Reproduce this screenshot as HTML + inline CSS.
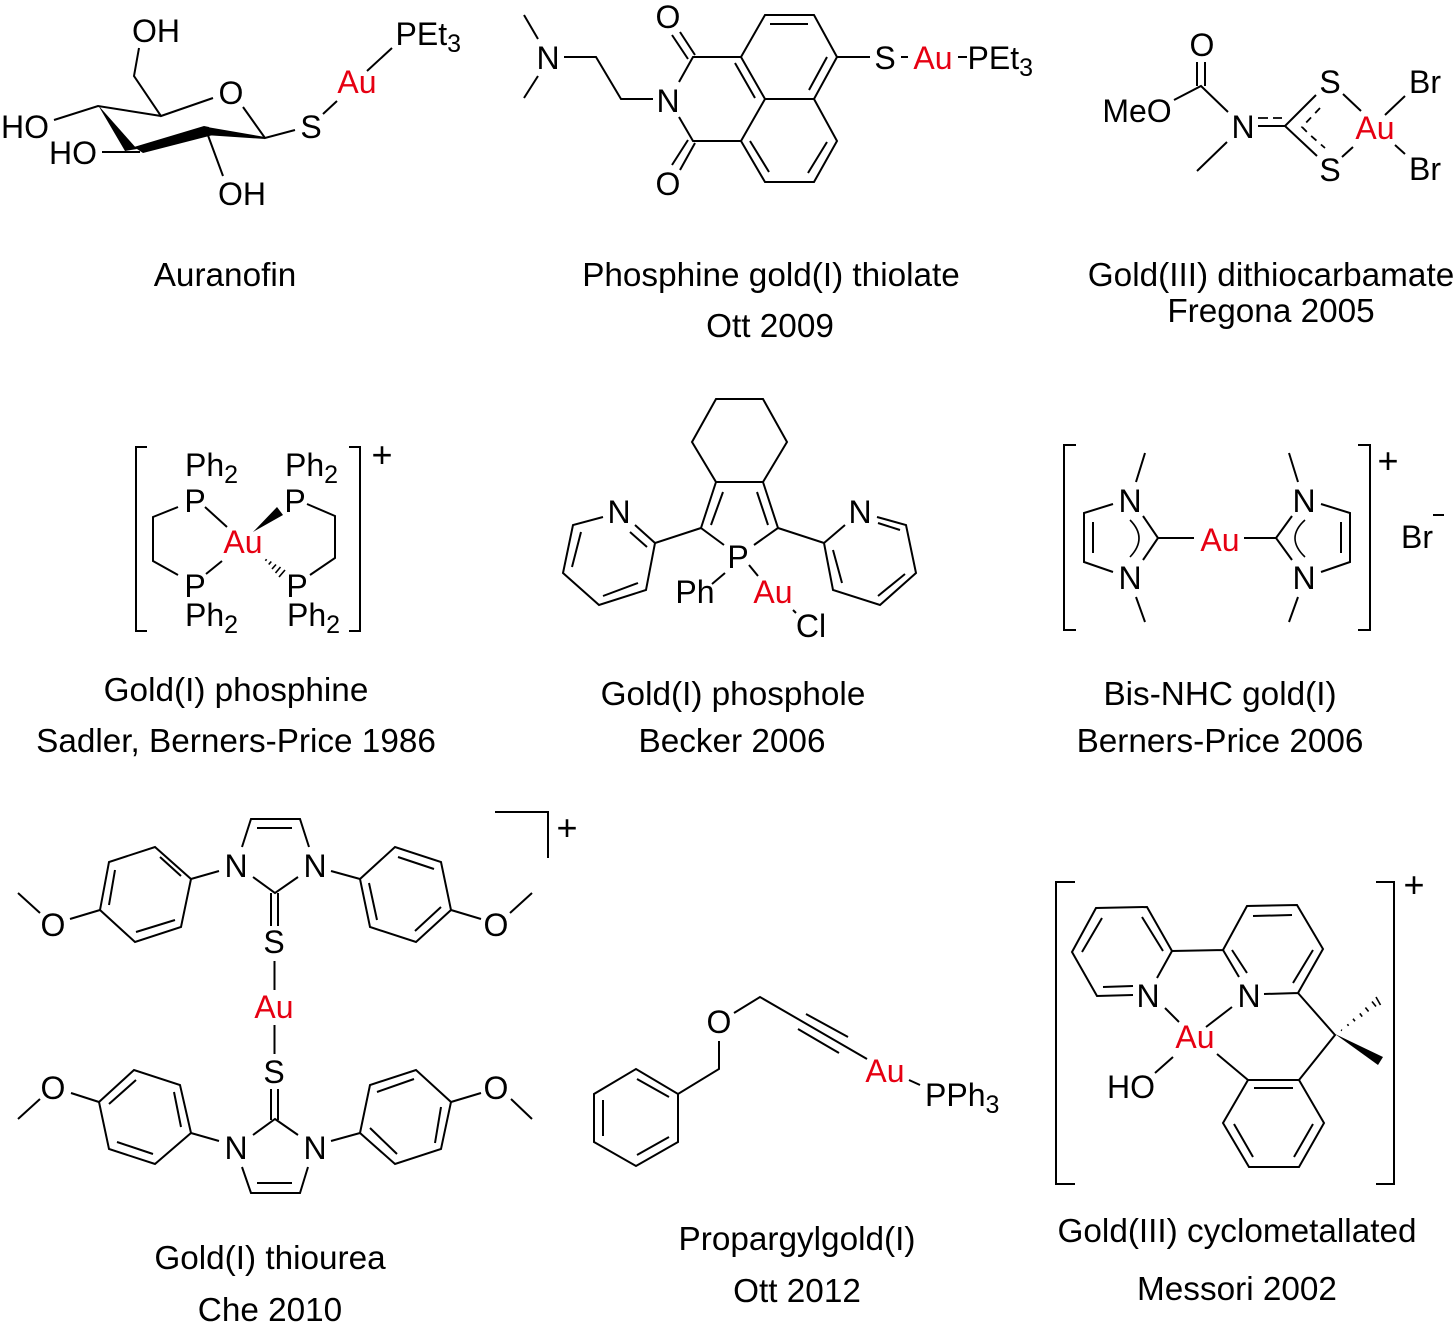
<!DOCTYPE html>
<html>
<head>
<meta charset="utf-8">
<style>
html,body{margin:0;padding:0;background:#fff;width:1455px;height:1329px;overflow:hidden}
svg{display:block}
text{font-family:"Liberation Sans",sans-serif;fill:#000}
.a{font-size:32px;text-anchor:middle}
.s{font-size:32px}
.l{font-size:33.3px;text-anchor:middle}
.p{font-size:36px;text-anchor:middle}
.r{fill:#e60012}
.b{fill:none;stroke:#000;stroke-width:2;stroke-linejoin:miter;stroke-linecap:butt}
.h{fill:none;stroke:#000;stroke-width:1.6}
.d{fill:none;stroke:#000;stroke-width:1.8;stroke-dasharray:7 6}
</style>
</head>
<body>
<svg width="1455" height="1329" viewBox="0 0 1455 1329" xmlns="http://www.w3.org/2000/svg">
<!-- Labels -->
<g class="lbl">
<text class="l" x="225" y="286">Auranofin</text>
<text class="l" x="771" y="286">Phosphine gold(I) thiolate</text>
<text class="l" x="770" y="337">Ott 2009</text>
<text class="l" x="1271" y="286">Gold(III) dithiocarbamate</text>
<text class="l" x="1271" y="322">Fregona 2005</text>
<text class="l" x="236" y="701">Gold(I) phosphine</text>
<text class="l" x="236" y="752">Sadler, Berners-Price 1986</text>
<text class="l" x="733" y="705">Gold(I) phosphole</text>
<text class="l" x="732" y="752">Becker 2006</text>
<text class="l" x="1220" y="705">Bis-NHC gold(I)</text>
<text class="l" x="1220" y="752">Berners-Price 2006</text>
<text class="l" x="270" y="1269">Gold(I) thiourea</text>
<text class="l" x="270" y="1321">Che 2010</text>
<text class="l" x="797" y="1250">Propargylgold(I)</text>
<text class="l" x="797" y="1302">Ott 2012</text>
<text class="l" x="1237" y="1242">Gold(III) cyclometallated</text>
<text class="l" x="1237" y="1300">Messori 2002</text>
</g>

<!-- 1 Auranofin -->
<path class="b" d="M139 48L134 76L161 116L213 98M243 107L265 138L295 130M323 114L337 101M367 71L392 48M161 116L98 106L54 120M102 152L140 152M206 130L223 176"/>
<polygon points="98,105 125,151 137,149"/>
<polygon points="134,147 204,126 209,127 213,135 143,153"/>
<polygon points="207,127 265,137 265,139 205,135"/>
<text class="a" x="156" y="42">OH</text>
<text class="s" x="395.5" y="45">PEt<tspan font-size="25" dy="7">3</tspan></text>
<text class="a r" x="357" y="93">Au</text>
<text class="a" x="231" y="104">O</text>
<text class="a" x="311" y="138">S</text>
<text class="a" x="25" y="138">HO</text>
<text class="a" x="73" y="164">HO</text>
<text class="a" x="242" y="205">OH</text>

<!-- 2 Phosphine gold thiolate -->
<path class="b" d="M524 15L538 39M524 98L538 76M564 57L596 57L621 99L653 99M679 82L693 57L741 57L765 15L814 15L837 57L814 99L765 99L741 57M765 99L741 141L693 141L679 117M741 141L765 182L814 182L837 141L814 99M837 57L870 57M770 24L808 24M827 57L809 90M735 63L755 98M750 141L769 172L769 172M808 173L827 142M695 55L680 32M688 59L672 35M695 143L680 170M688 140L672 165M901 57L908 57M958 57L967 57"/>
<text class="a" x="548" y="69">N</text>
<text class="a" x="668" y="112">N</text>
<text class="a" x="668" y="28">O</text>
<text class="a" x="668" y="195">O</text>
<text class="a" x="885" y="69">S</text>
<text class="a r" x="933" y="69">Au</text>
<text class="s" x="967.5" y="69">PEt<tspan font-size="25" dy="7">3</tspan></text>

<!-- 3 Gold dithiocarbamate -->
<path class="b" d="M1197 62L1197 86M1205 62L1205 86M1174 100L1201 86L1228 112M1227 142L1197 171M1258 126L1285 126L1316 95M1285 126L1317 156M1343 94L1361 111M1342 157L1353 147M1385 115L1405 96M1395 145L1405 154"/>
<path class="d" style="stroke-dasharray:10 5" d="M1258 118L1282 118"/>
<path class="d" d="M1320 108L1302 127L1310 135L1325 148"/>

<text class="a" x="1202" y="56">O</text>
<text class="a" x="1137" y="122">MeO</text>
<text class="a" x="1243" y="138">N</text>
<text class="a" x="1330" y="93">S</text>
<text class="a" x="1330" y="181">S</text>
<text class="a r" x="1375" y="139">Au</text>
<text class="a" x="1425" y="93">Br</text>
<text class="a" x="1425" y="180">Br</text>

<!-- 4 Gold phosphine -->
<path class="b" d="M147 447L136 447L136 631L147 631M349 447L360 447L360 631L349 631M178 507L153 517L153 561L178 575M205 507L227 527M222 561L206 574M307 504L335 516L335 558L310 575"/>
<polygon points="253,532 283,515 277,507"/>
<path class="h" d="M265.4 560.8L266.6 559.2M268.7 564.5L271.3 561.5M272 569L276 564.5M275.5 573L280.5 567M279 577L285 570"/>
<text class="s" x="185" y="476">Ph<tspan font-size="25" dy="7">2</tspan></text>
<text class="s" x="285" y="476">Ph<tspan font-size="25" dy="7">2</tspan></text>
<text class="a" x="195" y="512">P</text>
<text class="a" x="295" y="512">P</text>
<text class="a r" x="243" y="553">Au</text>
<text class="a" x="195" y="597">P</text>
<text class="a" x="297" y="597">P</text>
<text class="s" x="185" y="626">Ph<tspan font-size="25" dy="7">2</tspan></text>
<text class="s" x="287" y="626">Ph<tspan font-size="25" dy="7">2</tspan></text>
<text class="p" x="382" y="467">+</text>

<!-- 5 Gold phosphole -->
<path class="b" d="M716 399L763 399L787 442L763 482L716 482L692 442ZM716 482L701 528L724 545M763 482L778 528L754 545M723 492L711 525M757 492L768 525M701 528L655 543L646 590L599 605L563 573L573 525L603 517M635 525L655 543M630 532L647 547M581 532L572 567M603 596L638 583M778 528L824 543L845 525M877 517L906 525L916 573L880 605L833 590L824 543M878 523L900 530M833 550L842 583M878 596L905 574M725 573L712 584M749 565L758 576M793 610L796 613"/>
<text class="a" x="738" y="568">P</text>
<text class="a" x="619" y="523">N</text>
<text class="a" x="860" y="523">N</text>
<text class="a" x="695" y="603">Ph</text>
<text class="a r" x="773" y="603">Au</text>
<text class="a" x="811" y="637">Cl</text>

<!-- 6 Bis-NHC -->
<path class="b" d="M1076 445L1064 445L1064 630L1076 630M1358 445L1370 445L1370 630L1358 630M1136 482L1145 453M1136 597L1145 622M1113 504L1084 513L1084 562L1113 572M1093 522L1093 553M1143 516L1158 538L1143 560M1158 538L1194 538M1244 538L1276 538M1298 482L1289 453M1298 597L1289 622M1321 504L1350 513L1350 562L1321 572M1341 522L1341 553M1292 516L1276 538L1292 560M1433 515L1444 515"/>
<path class="h" d="M1130 520Q1148 538 1130 557M1305 520Q1285 538 1305 557"/>
<text class="a" x="1130" y="512">N</text>
<text class="a" x="1130" y="589">N</text>
<text class="a" x="1304" y="512">N</text>
<text class="a" x="1304" y="589">N</text>
<text class="a r" x="1220" y="551">Au</text>
<text class="a" x="1417" y="548">Br</text>
<text class="p" x="1388" y="473">+</text>

<!-- 7 Gold thiourea -->
<path class="b" d="M242 847L251 819L300 819L309 847M257 828L292 828M253 877L275 893L298 877M271 893L271 926M278 893L278 926M274.5 961L274.5 990M274.5 1025L274.5 1054M271 1089L271 1120M278 1089L278 1120M253 1135L275 1119L298 1135M242 1167L251 1193L300 1193L308 1167M257 1183L292 1183
M219 871L191 879L155 847L109 862L100 910L135 942L181 927L191 879M160 857L181 876M115 870L109 905M136 932L175 920M100 910L70 919M40 913L18 893
M331 871L360 879L395 847L441 862L451 910L416 942L370 927L360 879M398 857L434 869M441 907L415 931M369 883L377 920M451 910L481 919M510 913L532 893
M219 1141L191 1133L155 1164L109 1149L99 1102L134 1070L180 1085L191 1133M109 1104L136 1080M174 1092L181 1127M117 1142L153 1154M99 1102L71 1093M40 1099L18 1119
M331 1141L360 1133L395 1164L441 1149L451 1102L416 1070L370 1085L360 1133M370 1128L397 1154M435 1143L441 1107M377 1092L414 1079M451 1102L481 1093M511 1099L532 1119
M495 812L548 812L548 858"/>
<text class="a" x="236" y="877">N</text>
<text class="a" x="315" y="877">N</text>
<text class="a" x="274" y="953">S</text>
<text class="a r" x="274" y="1018">Au</text>
<text class="a" x="274" y="1083">S</text>
<text class="a" x="236" y="1159">N</text>
<text class="a" x="315" y="1159">N</text>
<text class="a" x="53" y="936">O</text>
<text class="a" x="496" y="936">O</text>
<text class="a" x="53" y="1099">O</text>
<text class="a" x="496" y="1099">O</text>
<text class="p" x="567" y="840">+</text>

<!-- 8 Propargylgold -->
<path class="b" d="M719 1041L719 1069L678 1094L636 1069L594 1094L594 1142L636 1166L678 1142L678 1094M637 1079L669 1097M603 1100L603 1136M637 1155L669 1137M734 1013L760 997L867 1059M806 1014L848 1037M798 1029L839 1053M909 1080L920 1085"/>
<text class="a" x="719" y="1033">O</text>
<text class="a r" x="885" y="1082">Au</text>
<text class="s" x="925" y="1106">PPh<tspan font-size="25" dy="7">3</tspan></text>

<!-- 9 Gold cyclometallated -->
<path class="b" d="M1075 882L1056 882L1056 1184L1075 1184M1376 882L1394 882L1394 1184L1376 1184
M1157 978L1172 951L1147 907L1096 908L1072 952L1097 996L1133 995M1102 918L1082 952M1142 917L1163 951M1103 987L1133 986M1172 951L1223 950L1239 977M1223 950L1247 906L1297 905L1323 949L1298 993L1264 994M1253 916L1292 915M1313 950L1293 983M1232 950L1247 973M1298 993L1335 1035L1299 1080L1248 1080L1223 1123L1249 1167L1299 1167L1324 1123L1299 1080M1254 1088L1293 1088M1234 1124L1253 1157M1313 1124L1294 1157M1165 1008L1179 1022M1232 1007L1206 1027M1217 1054L1248 1080M1173 1057L1155 1073"/>
<polygon points="1335,1034 1383,1057 1378,1065"/>
<path class="h" d="M1341 1030L1342 1030.5M1347.4 1024.2L1348.6 1025.8M1353 1018.8L1355 1021.2M1359.8 1013.4L1362.2 1016.6M1365.4 1007.5L1368.6 1011.5M1372 1001.5L1376 1006.5M1376 997L1380.5 1005"/>
<text class="a" x="1148" y="1007">N</text>
<text class="a" x="1249" y="1007">N</text>
<text class="a r" x="1195" y="1048">Au</text>
<text class="a" x="1131" y="1098">HO</text>
<text class="p" x="1414" y="897">+</text>
</svg>
</body>
</html>
